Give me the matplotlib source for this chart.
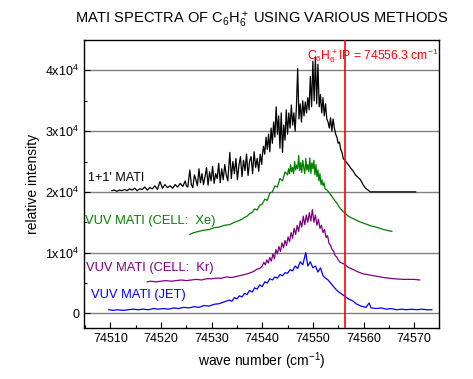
import matplotlib
matplotlib.use("Agg")
import matplotlib.pyplot as plt
from matplotlib.ticker import MultipleLocator, FixedLocator

plt.rcParams['font.family'] = ['Liberation Sans', 'DejaVu Sans']
plt.rcParams['mathtext.default'] = 'regular'

# ---- data (intensity in units of 1e4) ----
mati_x = [74510.3, 74510.8, 74511.3, 74511.8, 74512.3, 74512.8, 74513.3, 74513.8, 74514.3, 74514.8,
          74515.3, 74515.8, 74516.3, 74516.8, 74517.3, 74517.8, 74518.3, 74518.8, 74519.3, 74519.8,
          74520.3, 74520.8, 74521.3, 74521.8, 74522.3, 74522.8, 74523.3, 74523.8, 74524.3, 74524.8,
          74525.0, 74525.3, 74525.7, 74526.0, 74526.3, 74526.6, 74526.9, 74527.2, 74527.5, 74527.8,
          74528.1, 74528.4, 74528.7, 74529.0, 74529.3, 74529.6, 74529.9, 74530.2, 74530.5, 74530.8,
          74531.1, 74531.4, 74531.7, 74532.0, 74532.3, 74532.6, 74532.9, 74533.2, 74533.6, 74533.9,
          74534.2, 74534.5, 74534.8, 74535.1, 74535.4, 74535.7, 74536.0, 74536.3, 74536.6, 74536.9,
          74537.2, 74537.5, 74537.8, 74538.1, 74538.4, 74538.7, 74539.0, 74539.3, 74539.6, 74539.9,
          74540.0, 74540.25, 74540.5, 74540.75, 74541.0, 74541.25, 74541.5, 74541.75, 74542.0, 74542.25,
          74542.5, 74542.75, 74543.0, 74543.25, 74543.5, 74543.75, 74544.0, 74544.25, 74544.5, 74544.75,
          74545.0, 74545.25, 74545.5, 74545.75, 74546.0, 74546.25, 74546.5, 74546.75, 74547.0, 74547.25,
          74547.5, 74547.75, 74548.0, 74548.25, 74548.5, 74548.75, 74549.0, 74549.25, 74549.5, 74549.75,
          74550.0, 74550.25, 74550.5, 74550.75, 74551.0, 74551.25, 74551.5, 74551.75, 74552.0, 74552.25,
          74552.5, 74552.75, 74553.0, 74553.25, 74553.5, 74553.75, 74554.0, 74554.25, 74554.5, 74554.75,
          74555.0, 74555.25, 74555.5, 74555.75, 74556.0, 74556.5, 74557.0, 74557.4, 74557.9, 74558.4,
          74558.9, 74559.4, 74559.9, 74560.4, 74560.9, 74561.3, 74565.0, 74570.3]
mati_y = [2.02, 2.03, 2.01, 2.03, 2.02, 2.04, 2.02, 2.05, 2.03, 2.06,
          2.02, 2.05, 2.04, 2.08, 2.03, 2.07, 2.05, 2.10, 2.04, 2.17,
          2.06, 2.12, 2.07, 2.10, 2.06, 2.12, 2.08, 2.14, 2.09, 2.18,
          2.10, 2.08, 2.36, 2.12, 2.07, 2.28, 2.20, 2.10, 2.38, 2.15,
          2.30, 2.12, 2.25, 2.40, 2.11, 2.33, 2.18, 2.42, 2.14, 2.30,
          2.22, 2.47, 2.15, 2.38, 2.20, 2.45, 2.28, 2.18, 2.65, 2.22,
          2.50, 2.30, 2.55, 2.20, 2.44, 2.58, 2.25, 2.52, 2.35, 2.62,
          2.27, 2.50, 2.58, 2.30, 2.66, 2.40, 2.55, 2.34, 2.62, 2.45,
          2.58, 2.75, 2.62, 2.90, 2.70, 2.95, 2.66, 3.05, 2.80, 3.15,
          2.90, 3.40, 2.95, 3.25, 2.72, 3.30, 2.65, 3.10, 2.85, 3.35,
          2.95, 3.30, 3.05, 3.43, 3.10, 3.30, 3.00, 3.40, 4.03, 3.20,
          3.45, 3.15, 3.50, 3.25, 3.48, 3.30, 3.55, 3.35, 3.90, 3.40,
          4.15, 3.50, 4.22, 3.45, 4.10, 3.40, 3.60, 3.30, 3.55, 3.25,
          3.45, 3.20, 3.15, 3.05, 3.22, 3.00, 3.20, 3.05, 2.95, 2.90,
          2.80, 2.82, 2.70, 2.65, 2.55, 2.50, 2.45, 2.40, 2.35, 2.28,
          2.24, 2.20, 2.12, 2.06, 2.03, 2.00, 2.00, 2.00]

xe_x = [74525.7, 74526.5, 74527.5, 74528.5, 74529.5, 74530.5, 74531.5, 74532.5, 74533.5, 74534.5,
        74535.5, 74536.0, 74536.5, 74537.0, 74537.5, 74538.0, 74538.5, 74539.0, 74539.5, 74540.0,
        74540.5, 74541.0, 74541.5, 74542.0, 74542.5, 74543.0, 74543.5, 74544.0, 74544.5,
        74545.0, 74545.2, 74545.4, 74545.6, 74545.8, 74546.0, 74546.2, 74546.4, 74546.6, 74546.8,
        74547.0, 74547.2, 74547.4, 74547.6, 74547.8, 74548.0, 74548.2, 74548.4, 74548.6, 74548.8,
        74549.0, 74549.2, 74549.4, 74549.6, 74549.8, 74550.0, 74550.2, 74550.4, 74550.6, 74550.8,
        74551.0, 74551.2, 74551.4, 74551.6, 74551.8, 74552.0, 74552.2, 74552.4,
        74552.8, 74553.3, 74553.8, 74554.3, 74554.7, 74555.2, 74555.7, 74556.3, 74557.0, 74557.7,
        74558.7, 74559.5, 74560.5, 74561.5, 74562.5, 74563.2, 74564.0, 74565.0, 74565.6]
xe_y = [1.30, 1.33, 1.35, 1.37, 1.38, 1.41, 1.42, 1.45, 1.46, 1.50,
        1.53, 1.55, 1.58, 1.60, 1.64, 1.66, 1.72, 1.70, 1.78, 1.80,
        1.88, 1.86, 1.98, 2.00, 2.10, 2.08, 2.22, 2.18, 2.33,
        2.28, 2.38, 2.30, 2.45, 2.33, 2.40, 2.30, 2.50, 2.36, 2.44,
        2.38, 2.60, 2.35, 2.48, 2.32, 2.52, 2.40, 2.30, 2.55, 2.36,
        2.45, 2.33, 2.56, 2.30, 2.48, 2.38, 2.52, 2.28, 2.45, 2.25,
        2.36, 2.18, 2.30, 2.12, 2.20, 2.10, 2.15, 2.05,
        2.03, 1.98, 1.92, 1.86, 1.82, 1.75, 1.70, 1.65, 1.60, 1.57,
        1.53, 1.50, 1.47, 1.44, 1.42, 1.40, 1.38, 1.36, 1.35]

kr_x = [74517.3, 74518.0, 74519.0, 74520.0, 74521.0, 74522.0, 74523.0, 74524.0, 74525.0, 74526.0,
        74527.0, 74528.0, 74529.0, 74530.0, 74531.0, 74532.0, 74533.0, 74534.0, 74535.0, 74536.0,
        74537.0, 74538.0, 74538.5, 74539.0, 74539.5,
        74540.0, 74540.3, 74540.6, 74540.9, 74541.2, 74541.5, 74541.8, 74542.1, 74542.4, 74542.7,
        74543.0, 74543.3, 74543.6, 74543.9, 74544.2, 74544.5, 74544.8, 74545.1, 74545.4, 74545.7,
        74546.0, 74546.3, 74546.6, 74546.9, 74547.2, 74547.5, 74547.8, 74548.1, 74548.4, 74548.7,
        74549.0, 74549.3, 74549.6, 74549.9, 74550.2, 74550.5, 74550.8, 74551.1, 74551.4, 74551.7,
        74552.0, 74552.3, 74552.6, 74552.9, 74553.2, 74553.5, 74553.8, 74554.1, 74554.4, 74554.7,
        74555.0, 74555.4, 74556.0, 74557.0, 74558.0, 74559.0, 74560.0, 74562.0, 74564.0, 74566.0,
        74568.0, 74570.0, 74571.1]
kr_y = [0.52, 0.53, 0.52, 0.53, 0.54, 0.53, 0.54, 0.55, 0.54, 0.55,
        0.56, 0.55, 0.57, 0.57, 0.58, 0.58, 0.60, 0.59, 0.61, 0.63,
        0.65, 0.68, 0.70, 0.73, 0.74,
        0.78, 0.84, 0.80, 0.88, 0.83, 0.92, 0.86, 0.98, 0.90, 1.05,
        0.98, 1.10, 1.02, 1.16, 1.08, 1.20, 1.12, 1.26, 1.18, 1.33,
        1.24, 1.40, 1.30, 1.45, 1.35, 1.52, 1.42, 1.60, 1.46, 1.62,
        1.50, 1.66, 1.52, 1.71, 1.50, 1.62, 1.45, 1.55, 1.40, 1.45,
        1.33, 1.38, 1.25, 1.28, 1.15, 1.12, 1.05, 1.02, 0.95, 0.93,
        0.88, 0.84, 0.82, 0.76, 0.72, 0.68, 0.65, 0.62, 0.59, 0.57,
        0.56, 0.56, 0.55]

jet_x = [74509.7, 74510.5, 74511.5, 74512.5, 74513.5, 74514.5, 74515.5, 74516.5, 74517.5, 74518.5,
         74519.5, 74520.5, 74521.5, 74522.5, 74523.5, 74524.5, 74525.5, 74526.5, 74527.5, 74528.5,
         74529.5, 74530.5, 74531.5, 74532.5, 74533.5, 74534.0, 74534.5, 74535.0, 74535.5, 74536.0,
         74536.5, 74537.0, 74537.5, 74538.0, 74538.5, 74539.0, 74539.5, 74540.0, 74540.5, 74541.0,
         74541.5, 74542.0, 74542.5, 74543.0, 74543.5, 74544.0, 74544.5, 74545.0, 74545.5, 74546.0,
         74546.5, 74547.0, 74547.5, 74548.0, 74548.6, 74549.0, 74549.5, 74550.0, 74550.5, 74551.0,
         74551.5, 74552.0, 74552.5, 74553.0, 74553.5, 74554.0, 74554.5, 74555.0, 74555.5, 74556.0,
         74556.5, 74557.0, 74557.5, 74558.0, 74558.5, 74559.0, 74559.5, 74560.0, 74560.5, 74561.1,
         74561.5, 74562.5, 74563.5, 74564.5, 74565.5, 74566.5, 74567.5, 74568.5, 74569.5, 74570.5,
         74571.5, 74572.5, 74573.5]
jet_y = [0.06, 0.05, 0.06, 0.05, 0.06, 0.07, 0.06, 0.07, 0.06, 0.08,
         0.07, 0.08, 0.07, 0.09, 0.08, 0.10, 0.09, 0.11, 0.10, 0.13,
         0.12, 0.15, 0.16, 0.19, 0.22, 0.20, 0.26, 0.24, 0.29, 0.27,
         0.33, 0.31, 0.38, 0.35, 0.42, 0.40, 0.47, 0.44, 0.52, 0.50,
         0.57, 0.55, 0.60, 0.58, 0.64, 0.62, 0.67, 0.66, 0.72, 0.70,
         0.78, 0.74, 0.85, 0.80, 1.00, 0.78, 0.85, 0.75, 0.78, 0.68,
         0.75, 0.62, 0.58, 0.55, 0.50, 0.45, 0.40, 0.36, 0.33, 0.30,
         0.27, 0.24, 0.22, 0.20, 0.16, 0.14, 0.12, 0.11, 0.10, 0.17,
         0.09, 0.08, 0.09, 0.07, 0.08, 0.06, 0.07, 0.06, 0.07, 0.06,
         0.07, 0.06, 0.06]

ip_value = 74556.3
y_ticks = [0, 1e4, 2e4, 3e4, 4e4]
y_ticklabels = ['0', '1x10$^4$', '2x10$^4$', '3x10$^4$', '4x10$^4$']
x_ticks = [74510, 74520, 74530, 74540, 74550, 74560, 74570]
scale = 1e4

fig = plt.figure(figsize=(4.73, 3.79), dpi=100)
ax = fig.add_axes([0.1776, 0.1346, 0.7504, 0.7599])

for yt in y_ticks:
    ax.axhline(yt, color='#808080', lw=1.0, zorder=1)

ax.plot(mati_x, [v * scale for v in mati_y], color='black', lw=0.9, zorder=3)
ax.plot(xe_x, [v * scale for v in xe_y], color='#008000', lw=0.9, zorder=3)
ax.plot(kr_x, [v * scale for v in kr_y], color='#800080', lw=0.9, zorder=3)
ax.plot(jet_x, [v * scale for v in jet_y], color='#0000ff', lw=0.9, zorder=3)
ax.axvline(ip_value, color='red', lw=1.2, zorder=4)

ax.set_xlim(74504.8, 74574.9)
ax.set_ylim(-2400, 45000)
ax.xaxis.set_major_locator(FixedLocator(x_ticks))
ax.xaxis.set_minor_locator(MultipleLocator(5))
ax.set_xticklabels([str(t) for t in x_ticks])
ax.yaxis.set_major_locator(FixedLocator(y_ticks))
ax.yaxis.set_minor_locator(MultipleLocator(5000))
ax.set_yticklabels(y_ticklabels)
ax.tick_params(which='both', direction='in', top=False, right=False, labelsize=9)
ax.tick_params(which='major', length=4, width=0.8)
ax.tick_params(which='minor', length=2.5, width=0.8)
for s in ax.spines.values():
    s.set_linewidth(1.0)

ax.set_xlabel('wave number (cm$^{-1}$)', fontsize=10)
ax.set_ylabel('relative intensity', fontsize=10)
ax.set_title('MATI SPECTRA OF C$_6$H$_6^+$ USING VARIOUS METHODS', fontsize=10.5, pad=12)

ax.text(0.998, 42500, 'C$_6$H$_6^+$IP = 74556.3 cm$^{-1}$', color='red', fontsize=8.7,
        ha='right', va='center', transform=ax.get_yaxis_transform())
ax.text(74505.6, 22300, "1+1' MATI", color='black', fontsize=9, va='center', ha='left')
ax.text(74505.0, 15200, "VUV MATI (CELL:  Xe)", color='#008000', fontsize=9.3, va='center', ha='left')
ax.text(74505.1, 7450, "VUV MATI (CELL:  Kr)", color='#800080', fontsize=9.3, va='center', ha='left')
ax.text(74506.1, 3000, "VUV MATI (JET)", color='#0000ff', fontsize=9.3, va='center', ha='left')

fig.savefig('out.png', dpi=100)
